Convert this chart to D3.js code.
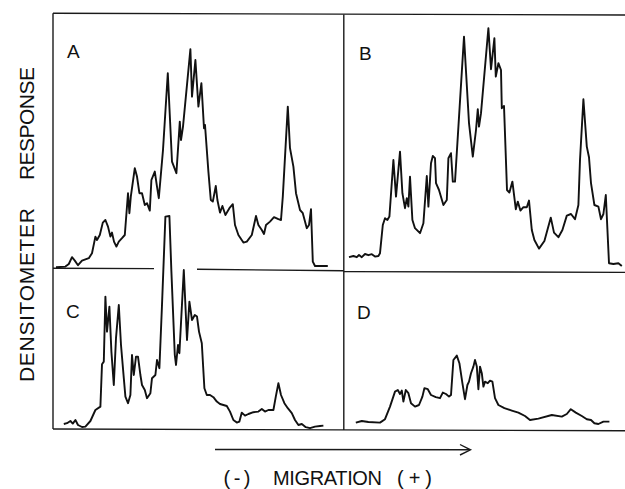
<!DOCTYPE html>
<html>
<head>
<meta charset="utf-8">
<script src="https://cdn.jsdelivr.net/npm/d3@7"></script>
<style>
  html, body { margin: 0; padding: 0; background: #fff; }
  svg { display: block; }
  .trace { fill: none; stroke: #111; stroke-width: 1.9; stroke-linejoin: round; }
  .frame { stroke: #1a1a1a; stroke-width: 1.4; }
  text { font-family: "Liberation Sans", Arial, sans-serif; fill: #111; }
</style>
</head>
<body>
<svg id="chart" width="625" height="489"></svg>
<script>
// migration distance (mm) vs densitometer response (arbitrary units)
var traceA = [[1.5,0.4],[6.2,0.7],[7.9,2],[9.5,5.4],[10.9,3.7],[12.5,1.4],[14.5,3.7],[17.9,4.9],[19.5,7.4],
  [21.2,15.7],[22,14],[23.4,16.5],[24.9,22.7],[26.2,24],[27.5,20.7],[28.7,15.7],[29.5,17.7],[30.5,13.2],
  [31.7,10.7],[32.9,13.2],[34.5,14.9],[35.9,16.5],[37.5,37.4],[38.2,27.4],[38.9,35.7],[40.9,49.9],[42,45.7],
  [43.2,37.4],[44.5,37.4],[45.9,31.5],[47,32.4],[48.4,28.7],[49.2,44],[50.9,48.2],[52,40.7],[52.9,34.9],
  [55,59],[57.4,97.4],[59.5,53.2],[61.7,47.4],[63.4,73.2],[64,64],[65,70.7],[68.7,109.4],[69.5,85.7],
  [71.2,104],[72.7,80.7],[74.2,92.4],[75.5,69.9],[76,71.5],[77.7,48.2],[78.9,34],[79.9,33.2],[81.4,41],
  [82.2,34],[83.5,27.7],[84.7,31],[86.2,26.5],[88.2,29.9],[89.9,31.9],[91,21.5],[92.7,16.5],[95.2,12.7],
  [96.9,13.2],[99.4,16.5],[101.5,26],[102.7,21.5],[104.4,19],[105.5,17],[106.5,21.5],[108.5,23.2],
  [110.5,25.4],[112.7,24.4],[114,24],[114.9,35.7],[117.4,80.7],[118.5,59.9],[120.2,50.7],[121.5,37.4],
  [123.5,29],[124.9,27.4],[126.9,19.9],[128,21.5],[129,29.4],[129.9,3.2],[131,1],[134.4,1],[137.4,1]];

var traceB = [[3,5.4],[5.2,6],[6.9,5.4],[8,6.5],[9.4,5.4],[11,7],[12.7,6.4],[14.4,6.9],[16,5.7],[17.7,6],
  [18.5,7.4],[19.9,21.5],[21,24.9],[22.2,24],[23.2,25.7],[25.2,54],[26.5,35.7],[28.5,58.2],[29.7,37.4],
  [31,29.9],[31.9,34.9],[32.7,30.7],[33.5,45.7],[34.7,24],[36,19.9],[38.5,17.4],[40.2,22.4],[41.9,46],
  [42.7,30.7],[44,52.4],[44.9,56],[46,54.9],[46.5,42.4],[48,39],[50.2,31.5],[51.9,34],[52.7,54.9],[54,57.4],
  [54.9,43.2],[56,43.2],[60.5,115.7],[63,72.4],[64.9,55.7],[66.5,69],[67.4,79.4],[68,70.7],[69,77.4],
  [72.7,119.9],[74,99.4],[75.7,114.9],[76.4,95.7],[77.7,102.4],[79,99],[79.4,79.9],[80.5,81],[82,39],
  [83.2,37.7],[84.7,43.2],[86.4,29.4],[87.4,33.2],[88.7,28.7],[90.2,30.4],[91.9,30.4],[93,33.7],[94.4,19],
  [95.7,14],[98,9.7],[100.7,13.5],[103.9,25.2],[105.5,17.7],[107.7,15.4],[109.7,19],[111.9,26.2],[114,27],
  [116,24.4],[117.7,31.5],[118.5,54],[120.2,84.4],[121.9,60.7],[123,55.4],[124,42.4],[125.7,31.5],
  [127.7,30.7],[129,24.4],[130.2,27],[131.4,36.5],[133,2.4],[135.2,2],[137.7,2.4],[139.4,1]];

var traceC = [[5.4,3],[7,3.4],[8.7,4.5],[9.9,3.2],[11.2,5],[12.5,2.5],[14.5,1.5],[16.2,1.7],[18.7,4.5],
  [21.2,10],[23.7,11.7],[24.5,32.9],[25.4,34.2],[26.2,66.7],[27,49.2],[28.2,61.7],[29.2,39.2],[30.4,22.5],
  [31.5,45.9],[32.9,62.5],[34,42.5],[35.4,25.9],[36.2,16.7],[37.5,13.4],[38.7,17.5],[39.5,37.5],[40.4,27.5],
  [41.5,36.7],[42.5,36.7],[43.7,27.5],[44.5,22.5],[45.9,20],[47,15.9],[48.7,18.4],[49.5,25.9],[51.2,27.5],
  [52,35],[53.2,30.9],[54.5,62.5],[56.2,106.7],[58.2,107],[59.2,79.2],[60.9,37.5],[61.5,32.5],[62.5,42.5],
  [63.2,38.4],[65.4,80],[67,45],[68.2,64.2],[69.5,55],[70.9,57.5],[72,56.7],[73,49.2],[74.4,43.4],
  [75.7,20.9],[76.9,17.5],[78.5,17.5],[80.2,16.4],[81.9,14.2],[83.5,13],[85.2,12.5],[86.9,12],[88.5,9.2],
  [90.2,5],[91.9,3.7],[93.2,4.2],[94.4,8.7],[96,7.2],[97.7,8],[100.2,8.9],[102.7,9.2],[104.4,10.5],
  [106,9.2],[107.7,10],[110.2,10],[111.4,16.7],[112.7,23.4],[114,17.5],[115.7,13.4],[117.4,10.9],
  [119.4,8.4],[121,5],[122.7,2.5],[124.4,3],[126.4,1.4],[128.5,0.9],[131,1.7],[133.5,2],[135.2,2.2]];

var traceD = [[6.4,3.7],[9.4,4.5],[12.7,4],[18.5,3.7],[21,5.4],[23.5,11.7],[26,19.2],[27.4,20],[28.5,18],
  [29.4,19.7],[30.2,14.2],[31.4,20],[32.7,18.4],[34,13.4],[36,11.7],[38,12.5],[39.7,16.7],[40.7,20.9],
  [42.4,20.4],[44,17.5],[46.4,16.4],[48.5,15.9],[49.9,18.7],[51.5,18],[53,16.7],[54,17.5],[55.2,35],
  [56.9,37.2],[58.2,33.4],[59.7,23.4],[61,15.4],[62.2,22.5],[63,24.2],[64,28.4],[65.2,31.7],[66,35],
  [66.9,31.7],[67.7,20.4],[68.5,31.7],[69.4,28.4],[70.2,21.7],[71,24.2],[72.4,23.4],[73.5,24.7],
  [74.7,24.2],[76,15.9],[77.7,12.5],[80.7,10.9],[84.4,9.7],[87.7,8.7],[91,7],[93.5,5],[97.7,5.7],
  [104.4,7.5],[109.4,6.7],[111.9,8],[113.9,10.4],[116.4,8.7],[119.4,7],[121.9,5.4],[124,5],[125.7,3.4],
  [127.7,3],[130.2,4.2],[133.2,4.2]];

var panelLabels = ['A', 'B', 'C', 'D'];
var yLabelWords = ['DENSITOMETER', 'RESPONSE'];
var xLabelParts = ['(-)', 'MIGRATION', '(+)'];

var svg = d3.select('#chart');

// one scale pair per column / row, all at 2 px per unit
var xLeft = d3.scaleLinear().domain([0, 145]).range([53, 343]);
var xRight = d3.scaleLinear().domain([0, 141]).range([343, 625]);
var yTop = d3.scaleLinear().domain([0, 127]).range([268, 14]);
var yBottom = d3.scaleLinear().domain([0, 80]).range([430, 270]);

var panels = [
  { label: panelLabels[0], data: traceA, x: xLeft, y: yTop, lx: 67, ly: 58 },
  { label: panelLabels[1], data: traceB, x: xRight, y: yTop, lx: 359, ly: 59.5 },
  { label: panelLabels[2], data: traceC, x: xLeft, y: yBottom, lx: 66, ly: 317.5 },
  { label: panelLabels[3], data: traceD, x: xRight, y: yBottom, lx: 357, ly: 318.5 }
];

// frame (the scan is slightly tilted, so ends differ by a pixel or two)
var frameLines = [
  [53, 13.3, 625, 15],
  [53, 13.3, 53, 429],
  [53, 429, 625, 430.7],
  [343.8, 14.5, 343.8, 430],
  [53, 268.3, 154, 268.6],
  [197, 269.3, 343.8, 270.8],
  [343.8, 271.6, 625, 272.4]
];
svg.selectAll('.frame')
  .data(frameLines)
  .enter()
  .append('line')
  .classed('frame', true)
  .attr('x1', d => d[0]).attr('y1', d => d[1])
  .attr('x2', d => d[2]).attr('y2', d => d[3]);

function renderTrace({ data, x, y }) {
  var line = d3.line()
    .x(d => x(d[0]))
    .y(d => y(d[1]));
  svg.append('path')
    .classed('trace', true)
    .attr('d', line(data));
}

panels.forEach(p => {
  renderTrace(p);
  svg.append('text')
    .attr('x', p.lx)
    .attr('y', p.ly)
    .attr('font-size', 19)
    .text(p.label);
});

// y-axis title, two rotated words
var yWords = [
  { text: yLabelWords[0], from: 382, len: 174 },
  { text: yLabelWords[1], from: 180, len: 113 }
];
yWords.forEach(w => {
  svg.append('text')
    .attr('transform', `translate(33.5, ${w.from}) rotate(-90)`)
    .attr('font-size', 21)
    .attr('textLength', w.len)
    .attr('lengthAdjust', 'spacing')
    .text(w.text);
});

// migration arrow
svg.append('line')
  .classed('frame', true)
  .attr('x1', 215).attr('y1', 449.5)
  .attr('x2', 470).attr('y2', 449.8);
svg.append('path')
  .attr('d', 'M460,444.5 L470.5,449.8 L460,455')
  .attr('fill', 'none')
  .attr('stroke', '#1a1a1a')
  .attr('stroke-width', 1.4);

// x-axis title
var xParts = [
  { text: xLabelParts[0], x: 223.5, len: 27 },
  { text: xLabelParts[1], x: 273, len: 109 },
  { text: xLabelParts[2], x: 397, len: 35 }
];
xParts.forEach(p => {
  svg.append('text')
    .attr('x', p.x)
    .attr('y', 484.5)
    .attr('font-size', 20)
    .attr('textLength', p.len)
    .attr('lengthAdjust', 'spacing')
    .text(p.text);
});
</script>
</body>
</html>
